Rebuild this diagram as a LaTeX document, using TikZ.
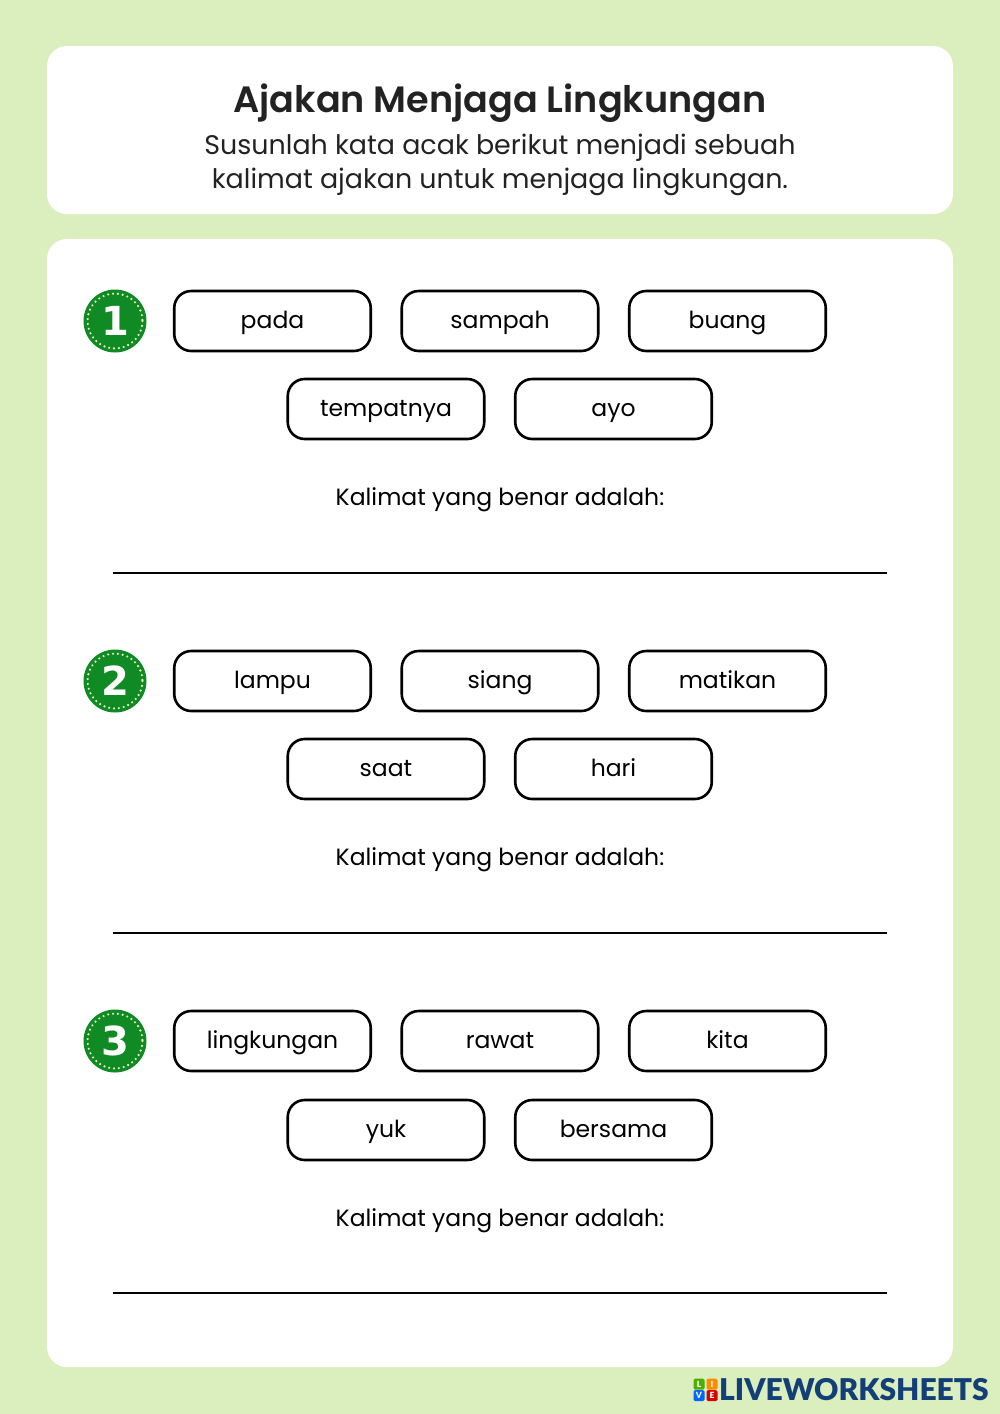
\documentclass[tikz,border=0pt]{standalone}
\usepackage{fontspec}
\setmainfont{Poppins}
\newfontfamily\titlefont{Poppins SemiBold}
\newfontfamily\digitfont{DejaVu Sans Bold}
\newfontfamily\logofont{Lato Black}
\definecolor{bgc}{HTML}{DAEFBD}
\definecolor{ink}{HTML}{222222}
\definecolor{badge}{HTML}{108A24}
\definecolor{dots}{HTML}{F0F8C0}
\definecolor{logoc}{HTML}{123F77}
\tikzset{
  x=1pt,y=-1pt,
  panel/.style={fill=white,draw=none,rounded corners=20pt},
  word/.style={draw=black,line width=2.6pt,rounded corners=17pt,minimum width=196.5pt,minimum height=60pt,inner sep=0pt,
    text height=20pt,text depth=5pt,font=\fontsize{23.5}{28}\selectfont,text=black,fill=white},
  prompt/.style={font=\fontsize{23.5}{28}\selectfont,text=black,inner sep=0pt,text height=20pt,text depth=4pt},
  rule/.style={draw=black,line width=2.6pt},
  badgec/.style={circle,fill=badge,minimum size=63pt,inner sep=0pt,text=white,font=\digitfont\fontsize{40}{44}\selectfont},
  ring/.style={draw=dots,line width=2.4pt,dash pattern=on 0pt off 4.9pt,line cap=round},
  logosq/.style={minimum size=11pt,inner sep=0pt,rounded corners=1.5pt,text=white,font=\logofont\fontsize{8.5}{9}\selectfont},
}
\begin{document}
\begin{tikzpicture}
\useasboundingbox (0,0) rectangle (1000,1414);
\fill[bgc] (0,0) rectangle (1000,1414);
\path[panel] (47,46) rectangle (953,214);
\path[panel] (47,239) rectangle (953,1367);
\node[inner sep=0pt,text=ink,font=\titlefont\fontsize{36.6}{42}\selectfont] (title) at (500,103.5) {Ajakan Menjaga Lingkungan};
\node[inner sep=0pt,text=ink,font=\fontsize{26.9}{34}\selectfont] (sub1) at (500,148) {Susunlah kata acak berikut menjadi sebuah};
\node[inner sep=0pt,text=ink,font=\fontsize{26.9}{34}\selectfont] (sub2) at (500,182) {kalimat ajakan untuk menjaga lingkungan.};
% section 1
\node[badgec] (b1) at (115,321) {1};
\draw[ring] (b1.center) circle (27.5);
\node[word] (a1) at (272.5,321) {pada};
\node[word] (a2) at (500,321) {sampah};
\node[word] (a3) at (727.5,321) {buang};
\node[word] (a4) at (386,409) {tempatnya};
\node[word] (a5) at (613.5,409) {ayo};
\node[prompt] (pa) at (500,497) {Kalimat yang benar adalah:};
\coordinate (la1) at (113,573); \coordinate (la2) at (887,573);
\draw[rule] (la1) -- (la2);
% section 2
\node[badgec] (b2) at (115,681) {2};
\draw[ring] (b2.center) circle (27.5);
\node[word] (c1) at (272.5,681) {lampu};
\node[word] (c2) at (500,681) {siang};
\node[word] (c3) at (727.5,681) {matikan};
\node[word] (c4) at (386,769) {saat};
\node[word] (c5) at (613.5,769) {hari};
\node[prompt] (pc) at (500,857) {Kalimat yang benar adalah:};
\coordinate (lc1) at (113,933); \coordinate (lc2) at (887,933);
\draw[rule] (lc1) -- (lc2);
% section 3
\node[badgec] (b3) at (115,1041) {3};
\draw[ring] (b3.center) circle (27.5);
\node[word] (d1) at (272.5,1041) {lingkungan};
\node[word] (d2) at (500,1041) {rawat};
\node[word] (d3) at (727.5,1041) {kita};
\node[word] (d4) at (386,1130) {yuk};
\node[word] (d5) at (613.5,1130) {bersama};
\node[prompt] (pd) at (500,1218) {Kalimat yang benar adalah:};
\coordinate (ld1) at (113,1293); \coordinate (ld2) at (887,1293);
\draw[rule] (ld1) -- (ld2);
% logo
\node[logosq,fill=green!55!black!70!yellow] (lg1) at (699,1384) {L};
\node[logosq,fill=orange!90!yellow] (lg2) at (712,1384) {I};
\node[logosq,fill=blue!60!cyan] (lg3) at (699,1395.5) {V};
\node[logosq,fill=red!85!black] (lg4) at (712,1395.5) {E};
\node[anchor=west,inner sep=0pt,text=logoc,font=\logofont\fontsize{30}{34}\selectfont] (logo) at (719,1390) {LIVEWORKSHEETS};
\end{tikzpicture}
\end{document}
